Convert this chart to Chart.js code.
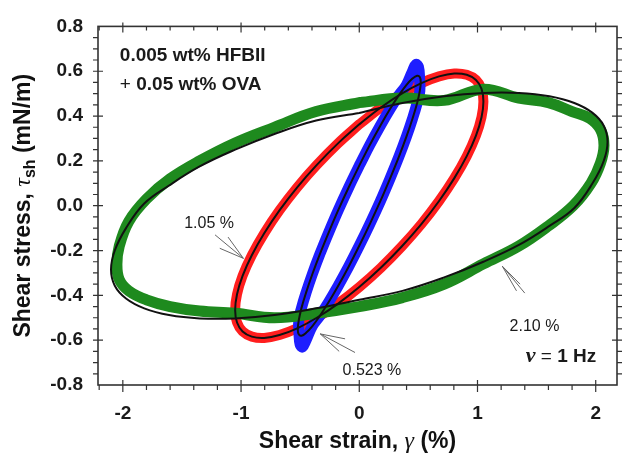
<!DOCTYPE html>
<html><head><meta charset="utf-8">
<script src="https://cdn.jsdelivr.net/npm/chart.js@4.4.1/dist/chart.umd.min.js"></script>
<style>html,body{margin:0;padding:0;background:#fff;}canvas{display:block;}</style>
</head><body>
<canvas id="c" width="622" height="456"></canvas>
<script>
// ---- tick labels ----
const xTickValues = [-2, -1, 0, 1, 2];
const yTickValues = [-0.8, -0.6, -0.4, -0.2, 0, 0.2, 0.4, 0.6, 0.8];

// ---- fitted loops (black lines) ----
const greenFitX = [0, 0.365, 0.718, 1.05, 1.35, 1.609, 1.819, 1.973, 2.068, 2.1, 2.068, 1.973, 1.819, 1.609, 1.35, 1.05, 0.718, 0.365, 0, -0.365, -0.718, -1.05, -1.35, -1.609, -1.819, -1.973, -2.068, -2.1, -2.068, -1.973, -1.819, -1.609, -1.35, -1.05, -0.718, -0.365, 0];
const greenFitY = [0.414, 0.458, 0.488, 0.503, 0.503, 0.488, 0.458, 0.414, 0.357, 0.285, 0.200, 0.100, -0.010, -0.090, -0.175, -0.250, -0.320, -0.380, -0.420, -0.458, -0.488, -0.503, -0.503, -0.488, -0.458, -0.414, -0.357, -0.285, -0.200, -0.100, 0.010, 0.090, 0.175, 0.250, 0.320, 0.380, 0.414];

const redFitX = [0, 0.182, 0.359, 0.525, 0.675, 0.804, 0.909, 0.987, 1.034, 1.05, 1.034, 0.987, 0.909, 0.804, 0.675, 0.525, 0.359, 0.182, 0, -0.182, -0.359, -0.525, -0.675, -0.804, -0.909, -0.987, -1.034, -1.05, -1.034, -0.987, -0.909, -0.804, -0.675, -0.525, -0.359, -0.182, 0];
const redFitY = [0.363, 0.438, 0.500, 0.547, 0.577, 0.590, 0.584, 0.561, 0.521, 0.465, 0.395, 0.313, 0.221, 0.123, 0.021, -0.082, -0.182, -0.277, -0.363, -0.438, -0.500, -0.547, -0.577, -0.590, -0.584, -0.561, -0.521, -0.465, -0.395, -0.313, -0.221, -0.123, -0.021, 0.082, 0.182, 0.277, 0.363];

const blueFitX = [0, 0.090, 0.178, 0.260, 0.334, 0.398, 0.450, 0.489, 0.512, 0.520, 0.512, 0.489, 0.450, 0.398, 0.334, 0.260, 0.178, 0.090, 0, -0.090, -0.178, -0.260, -0.334, -0.398, -0.450, -0.489, -0.512, -0.520, -0.512, -0.489, -0.450, -0.398, -0.334, -0.260, -0.178, -0.090, 0];
const blueFitY = [0.179, 0.272, 0.357, 0.431, 0.492, 0.538, 0.567, 0.580, 0.574, 0.552, 0.512, 0.457, 0.388, 0.307, 0.217, 0.121, 0.020, -0.081, -0.179, -0.272, -0.357, -0.431, -0.492, -0.538, -0.567, -0.580, -0.574, -0.552, -0.512, -0.457, -0.388, -0.307, -0.217, -0.121, -0.020, 0.081, 0.179];

// ---- measured data bands (coloured) ----
const greenDataX = [0, 0.365, 0.718, 1.05, 1.35, 1.60, 1.80, 1.95, 2.04, 2.07, 2.04, 1.96, 1.81, 1.60, 1.35, 1.05, 0.718, 0.365, 0, -0.365, -0.718, -1.05, -1.35, -1.60, -1.80, -1.95, -2.03, -2.05, -2.03, -1.95, -1.80, -1.60, -1.35, -1.05, -0.718, -0.365, 0];
const greenDataY = [0.46, 0.48, 0.47, 0.52, 0.48, 0.46, 0.42, 0.39, 0.34, 0.27, 0.19, 0.10, 0.00, -0.09, -0.18, -0.26, -0.35, -0.41, -0.45, -0.48, -0.50, -0.48, -0.47, -0.45, -0.42, -0.38, -0.33, -0.26, -0.18, -0.07, 0.03, 0.12, 0.20, 0.28, 0.35, 0.42, 0.46];

const redDataX = redFitX;
const redDataY = redFitY;

const blueDataX = [0, 0.090, 0.178, 0.260, 0.334, 0.398, 0.45, 0.48, 0.50, 0.51, 0.512, 0.489, 0.450, 0.398, 0.334, 0.260, 0.178, 0.090, 0, -0.090, -0.178, -0.260, -0.334, -0.398, -0.45, -0.48, -0.50, -0.51, -0.512, -0.489, -0.450, -0.398, -0.334, -0.260, -0.178, -0.090, 0];
const blueDataY = [0.179, 0.272, 0.357, 0.431, 0.492, 0.538, 0.60, 0.63, 0.62, 0.57, 0.512, 0.457, 0.388, 0.307, 0.217, 0.121, 0.020, -0.081, -0.179, -0.272, -0.357, -0.431, -0.492, -0.538, -0.60, -0.63, -0.62, -0.57, -0.512, -0.457, -0.388, -0.307, -0.217, -0.121, -0.020, 0.081, 0.179];

// ---- annotation anchors (data units) ----
const loopLabels = [
  { text: '1.05 %', x: -1.27, y: -0.099, tip: [-0.98, -0.235], tails: [[-1.22, -0.13], [-1.11, -0.14], [-1.18, -0.19]] },
  { text: '0.523 %', x: 0.107, y: -0.757, tip: [-0.33, -0.572], tails: [[-0.12, -0.594], [-0.036, -0.655], [-0.17, -0.65]] },
  { text: '2.10 %', x: 1.482, y: -0.559, tip: [1.21, -0.27], tails: [[1.40, -0.39], [1.33, -0.38], [1.36, -0.35]] }
];

function zip(xs, ys) { return xs.map((x, i) => ({ x: x, y: ys[i] })); }

const FONT = '"Liberation Sans", Arial, Helvetica, sans-serif';
const SERIF = '"Liberation Serif", "Times New Roman", serif';

function drawParts(ctx, parts, x, y, align) {
  let total = 0;
  parts.forEach(p => { ctx.font = p.font; p.w = ctx.measureText(p.text).width; total += p.w; });
  let cx = align === 'center' ? x - total / 2 : (align === 'right' ? x - total : x);
  parts.forEach(p => { ctx.font = p.font; ctx.fillText(p.text, cx, y + (p.dy || 0)); cx += p.w; });
}

const decor = {
  id: 'decor',
  afterDatasetsDraw(chart) {
    const ctx = chart.ctx, a = chart.chartArea, xs = chart.scales.x, ys = chart.scales.y;
    ctx.save();
    ctx.strokeStyle = '#333'; ctx.lineWidth = 1.6;
    ctx.strokeRect(a.left, a.top, a.right - a.left, a.bottom - a.top);
    ctx.lineWidth = 1.2;
    ctx.beginPath();
    for (let k = -11; k <= 11; k++) {
      const v = k * 0.2; const px = xs.getPixelForValue(v);
      if (px < a.left + 1 || px > a.right - 1) continue;
      const major = (k % 5 === 0);
      if (major) {
        ctx.moveTo(px, a.top - 4); ctx.lineTo(px, a.top + 6);
        ctx.moveTo(px, a.bottom - 5); ctx.lineTo(px, a.bottom + 7);
      } else {
        ctx.moveTo(px, a.top); ctx.lineTo(px, a.top + 4);
        ctx.moveTo(px, a.bottom); ctx.lineTo(px, a.bottom + 5);
      }
    }
    for (let k = -16; k <= 16; k++) {
      const v = k * 0.05; const py = ys.getPixelForValue(v);
      if (py < a.top + 1 || py > a.bottom - 1) continue;
      const major = (k % 4 === 0);
      if (major) {
        ctx.moveTo(a.left - 5, py); ctx.lineTo(a.left + 5, py);
        ctx.moveTo(a.right - 5, py); ctx.lineTo(a.right + 5, py);
      } else {
        ctx.moveTo(a.left - 5, py); ctx.lineTo(a.left, py);
        ctx.moveTo(a.right, py); ctx.lineTo(a.right + 5, py);
      }
    }
    ctx.stroke();

    ctx.strokeStyle = '#666'; ctx.lineWidth = 1;
    ctx.beginPath();
    loopLabels.forEach(l => {
      const tx = xs.getPixelForValue(l.tip[0]), ty = ys.getPixelForValue(l.tip[1]);
      l.tails.forEach(t => { ctx.moveTo(xs.getPixelForValue(t[0]), ys.getPixelForValue(t[1])); ctx.lineTo(tx, ty); });
    });
    ctx.stroke();

    ctx.fillStyle = '#1a1a1a'; ctx.textBaseline = 'alphabetic'; ctx.textAlign = 'left';
    loopLabels.forEach(l => {
      drawParts(ctx, [{ text: l.text, font: '16px ' + FONT }], xs.getPixelForValue(l.x), ys.getPixelForValue(l.y), 'center');
    });
    drawParts(ctx, [{ text: '0.005 wt% HFBII', font: 'bold 19px ' + FONT }], xs.getPixelForValue(-2.025), ys.getPixelForValue(0.647), 'left');
    drawParts(ctx, [{ text: '+ ', font: '19px ' + FONT }, { text: '0.05 wt% OVA', font: 'bold 19px ' + FONT }], xs.getPixelForValue(-2.025), ys.getPixelForValue(0.515), 'left');
    drawParts(ctx, [{ text: '\u03BD', font: 'italic bold 22px ' + SERIF }, { text: ' = ', font: '19px ' + FONT }, { text: '1 Hz', font: 'bold 19px ' + FONT }], xs.getPixelForValue(1.706), ys.getPixelForValue(-0.699), 'center');

    ctx.fillStyle = '#111';
    drawParts(ctx, [
      { text: 'Shear strain, ', font: 'bold 23px ' + FONT },
      { text: '\u03B3', font: 'italic 24px ' + SERIF },
      { text: ' (%)', font: 'bold 23px ' + FONT }
    ], (a.left + a.right) / 2, 448, 'center');
    ctx.save();
    ctx.translate(30, (a.top + a.bottom) / 2);
    ctx.rotate(-Math.PI / 2);
    drawParts(ctx, [
      { text: 'Shear stress, ', font: 'bold 23px ' + FONT },
      { text: '\u03C4', font: 'italic 24px ' + SERIF },
      { text: 'sh', font: 'bold 16px ' + FONT, dy: 5 },
      { text: ' (mN/m)', font: 'bold 23px ' + FONT }
    ], 0, 0, 'center');
    ctx.restore();
    ctx.restore();
  }
};

const bandStyle = (color, w) => ({ showLine: true, borderColor: color, backgroundColor: color, borderWidth: w, pointRadius: 0, tension: 0.4, borderJoinStyle: 'round', borderCapStyle: 'round', fill: false });
const fitStyle = { showLine: true, borderColor: '#111', borderWidth: 2, pointRadius: 0, tension: 0.4, fill: false };

new Chart(document.getElementById('c'), {
  type: 'scatter',
  data: {
    datasets: [
      Object.assign({ label: 'fit 2.10 %', data: zip(greenFitX, greenFitY), order: 1 }, fitStyle),
      Object.assign({ label: 'fit 1.05 %', data: zip(redFitX, redFitY), order: 1 }, fitStyle),
      Object.assign({ label: 'fit 0.523 %', data: zip(blueFitX, blueFitY), order: 1 }, fitStyle),
      Object.assign({ label: '2.10 %', data: zip(greenDataX, greenDataY), order: 4 }, bandStyle('rgb(30,138,30)', 11)),
      Object.assign({ label: '0.523 %', data: zip(blueDataX, blueDataY), order: 5 }, bandStyle('rgb(30,30,255)', 11)),
      Object.assign({ label: '1.05 %', data: zip(redDataX, redDataY), order: 6 }, bandStyle('rgb(255,30,30)', 10))
    ]
  },
  options: {
    responsive: false, animation: false, devicePixelRatio: 1,
    layout: { padding: { left: 0, right: 5, top: 20, bottom: 0 } },
    plugins: { legend: { display: false }, tooltip: { enabled: false } },
    scales: {
      x: {
        type: 'linear', min: -2.21, max: 2.18,
        grid: { display: false, drawTicks: false }, border: { display: false },
        afterBuildTicks: s => { s.ticks = xTickValues.map(v => ({ value: v })); },
        afterFit: s => { s.height = 71; },
        ticks: { padding: 17, color: '#1a1a1a', font: { family: FONT, size: 19, weight: 'bold' }, callback: v => String(v) }
      },
      y: {
        type: 'linear', min: -0.8, max: 0.8,
        grid: { display: false, drawTicks: false }, border: { display: false },
        afterBuildTicks: s => { s.ticks = yTickValues.map(v => ({ value: v })); },
        afterFit: s => { s.width = 98; },
        ticks: { padding: 15, color: '#1a1a1a', font: { family: FONT, size: 19, weight: 'bold' }, callback: v => Number(v).toFixed(1) }
      }
    }
  },
  plugins: [decor]
});
</script>
</body></html>
